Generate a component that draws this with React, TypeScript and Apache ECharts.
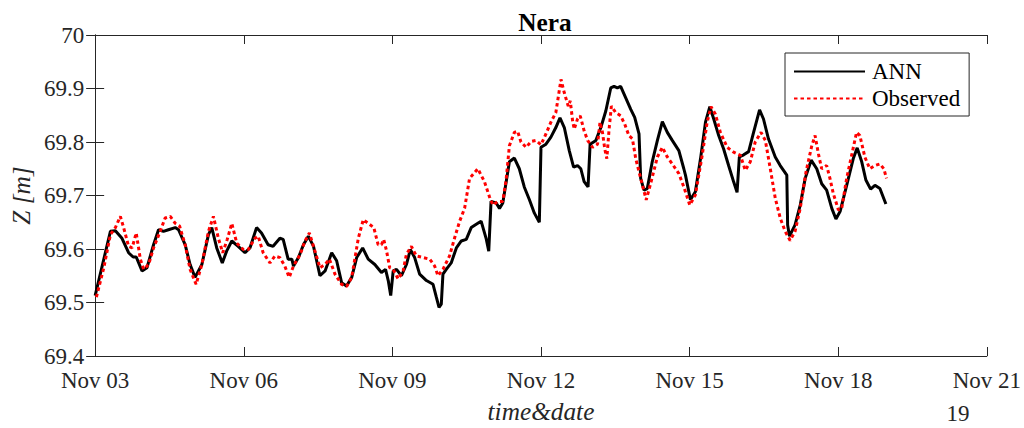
import React, { useEffect, useRef } from "react";
import * as echarts from "echarts";

// hours since Nov 03 00:00
const annHours = [0, 7.4, 9.8, 13.0, 16.2, 18.4, 19.9, 22.7, 25.1, 28.3, 30.7, 33.1, 35.5, 38.8, 40.4, 43.6, 46.0, 48.4, 51.7, 54.9, 56.5, 58.9, 61.6, 63.7, 66.2, 69.3, 72.6, 75.0, 78.2, 80.6, 83.8, 86.2, 89.5, 91.1, 93.5, 95.3, 96.1, 98.5, 100.9, 103.3, 105.8, 108.9, 111.4, 114.6, 117.0, 119.4, 121.8, 124.3, 126.7, 129.6, 132.3, 135.5, 138.7, 140.7, 142.0, 143.2, 144.4, 146.0, 148.4, 150.8, 152.7, 154.8, 157.2, 160.5, 163.7, 165.3, 166.6, 167.7, 168.5, 170.1, 172.5, 175.0, 177.4, 179.8, 182.2, 185.4, 187.0, 189.4, 190.7, 191.8, 194.3, 195.9, 197.5, 200.7, 203.1, 205.5, 207.9, 210.4, 212.8, 215.2, 216.0, 218.4, 220.8, 223.2, 225.2, 227.3, 229.7, 231.8, 233.7, 235.3, 236.9, 238.8, 239.8, 242.6, 245.0, 247.4, 249.8, 251.4, 253.0, 254.6, 257.0, 259.5, 261.4, 263.5, 264.3, 265.9, 267.5, 269.9, 272.4, 274.8, 277.2, 279.6, 282.8, 285.2, 286.0, 288.4, 290.8, 293.3, 295.7, 297.8, 299.7, 302.1, 304.5, 306.9, 309.3, 311.0, 312.1, 314.2, 316.6, 319.0, 321.9, 323.8, 326.2, 329.5, 331.9, 335.1, 335.5, 336.4, 339.1, 341.6, 344.0, 346.9, 349.6, 352.0, 354.4, 356.9, 358.9, 360.9, 364.1, 367.3, 369.2, 371.4, 373.4, 375.7, 377.8, 380.2, 383.1];
const annZ = [69.513, 69.633, 69.634, 69.62, 69.593, 69.585, 69.585, 69.559, 69.565, 69.608, 69.636, 69.633, 69.636, 69.64, 69.636, 69.608, 69.571, 69.547, 69.571, 69.627, 69.64, 69.602, 69.574, 69.596, 69.615, 69.605, 69.593, 69.602, 69.64, 69.63, 69.608, 69.605, 69.62, 69.618, 69.581, 69.581, 69.568, 69.584, 69.608, 69.624, 69.605, 69.55, 69.559, 69.593, 69.578, 69.537, 69.531, 69.547, 69.584, 69.602, 69.581, 69.571, 69.556, 69.562, 69.541, 69.513, 69.559, 69.562, 69.55, 69.571, 69.599, 69.584, 69.553, 69.541, 69.534, 69.51, 69.491, 69.497, 69.553, 69.562, 69.574, 69.602, 69.615, 69.618, 69.64, 69.648, 69.652, 69.62, 69.596, 69.689, 69.686, 69.676, 69.686, 69.763, 69.77, 69.75, 69.716, 69.692, 69.667, 69.65, 69.79, 69.796, 69.809, 69.827, 69.845, 69.827, 69.784, 69.753, 69.756, 69.75, 69.726, 69.716, 69.796, 69.803, 69.827, 69.858, 69.901, 69.904, 69.901, 69.904, 69.883, 69.861, 69.846, 69.815, 69.732, 69.71, 69.713, 69.763, 69.803, 69.838, 69.818, 69.803, 69.784, 69.75, 69.738, 69.692, 69.707, 69.769, 69.837, 69.866, 69.843, 69.812, 69.787, 69.756, 69.726, 69.706, 69.772, 69.776, 69.782, 69.818, 69.86, 69.843, 69.806, 69.772, 69.756, 69.738, 69.645, 69.624, 69.645, 69.682, 69.732, 69.766, 69.75, 69.722, 69.71, 69.676, 69.656, 69.67, 69.719, 69.769, 69.789, 69.763, 69.729, 69.712, 69.719, 69.713, 69.684];

const obsHours = [0.6, 4.2, 7.4, 9.8, 12.2, 13.8, 16.2, 17.9, 19.9, 21.9, 23.5, 25.9, 28.3, 31.5, 33.9, 36.4, 38.8, 40.9, 43.6, 46.0, 48.9, 51.7, 54.9, 57.3, 59.7, 61.8, 64.0, 66.2, 68.6, 71.8, 74.2, 77.4, 79.0, 81.4, 84.7, 87.1, 89.5, 91.9, 94.0, 96.1, 99.3, 101.7, 103.8, 106.5, 108.9, 111.4, 113.5, 116.2, 119.4, 121.8, 124.3, 127.5, 129.9, 132.3, 135.0, 137.1, 138.7, 139.8, 141.2, 142.7, 144.4, 146.8, 149.2, 150.8, 153.2, 155.6, 158.9, 162.1, 164.5, 166.1, 168.5, 171.7, 174.1, 176.6, 179.0, 181.4, 185.4, 188.6, 191.0, 192.7, 195.1, 197.5, 199.1, 200.7, 203.1, 204.7, 206.3, 208.8, 211.2, 213.6, 216.0, 218.4, 220.8, 223.2, 225.7, 227.3, 229.2, 230.2, 231.3, 232.1, 233.7, 235.0, 236.9, 238.6, 241.0, 243.4, 244.6, 245.8, 246.9, 247.9, 249.0, 250.1, 252.2, 254.6, 256.6, 258.6, 260.3, 261.9, 264.3, 267.0, 269.1, 272.4, 274.8, 277.2, 279.6, 282.8, 285.2, 288.1, 290.8, 294.1, 296.5, 298.4, 300.5, 302.9, 306.2, 309.3, 312.6, 315.0, 317.4, 319.8, 322.6, 324.7, 327.1, 329.5, 331.9, 334.3, 336.7, 339.1, 341.6, 344.4, 347.2, 348.8, 350.4, 352.0, 354.4, 356.0, 357.6, 360.1, 361.7, 364.1, 366.5, 368.9, 370.5, 372.9, 375.3, 377.8, 380.2, 382.1, 383.4];
const obsZ = [69.51, 69.565, 69.627, 69.64, 69.661, 69.64, 69.605, 69.602, 69.63, 69.581, 69.562, 69.571, 69.602, 69.633, 69.658, 69.661, 69.648, 69.643, 69.608, 69.562, 69.534, 69.571, 69.633, 69.661, 69.62, 69.593, 69.618, 69.648, 69.611, 69.599, 69.599, 69.62, 69.624, 69.593, 69.574, 69.587, 69.584, 69.568, 69.547, 69.568, 69.59, 69.615, 69.63, 69.596, 69.565, 69.571, 69.581, 69.553, 69.534, 69.53, 69.547, 69.62, 69.655, 69.648, 69.64, 69.608, 69.608, 69.618, 69.596, 69.565, 69.562, 69.544, 69.559, 69.59, 69.605, 69.587, 69.584, 69.581, 69.568, 69.55, 69.562, 69.587, 69.62, 69.652, 69.676, 69.732, 69.75, 69.726, 69.698, 69.682, 69.689, 69.689, 69.729, 69.793, 69.818, 69.82, 69.8, 69.79, 69.801, 69.803, 69.795, 69.815, 69.837, 69.855, 69.917, 69.892, 69.867, 69.877, 69.84, 69.824, 69.843, 69.849, 69.821, 69.803, 69.79, 69.796, 69.837, 69.818, 69.787, 69.769, 69.824, 69.867, 69.855, 69.849, 69.833, 69.812, 69.806, 69.769, 69.732, 69.692, 69.722, 69.772, 69.79, 69.772, 69.759, 69.741, 69.716, 69.682, 69.701, 69.775, 69.837, 69.866, 69.852, 69.818, 69.79, 69.781, 69.775, 69.747, 69.763, 69.8, 69.818, 69.803, 69.75, 69.695, 69.658, 69.633, 69.616, 69.633, 69.676, 69.744, 69.793, 69.812, 69.778, 69.75, 69.756, 69.732, 69.704, 69.673, 69.676, 69.732, 69.775, 69.818, 69.812, 69.772, 69.75, 69.756, 69.759, 69.75, 69.732];

const xStartDay = 3; // Nov 03
const xTickHours = 72;
const xMaxHours = 432; // Nov 21
const yMin = 69.4;
const yMax = 70;
const yStep = 0.1;
const seriesNames = ["ANN", "Observed"];

const FONT = "Liberation Serif";
const AX = "#262626";
const TICK_FS = 23;
const LABEL_FS = 25.3;

export default function App() {
  const ref = useRef<HTMLDivElement>(null);
  useEffect(() => {
    if (!ref.current) return;
    const chart = echarts.init(ref.current, null, { renderer: "svg" });
    const annData = annHours.map((h, i) => [h, annZ[i]]);
    const obsData = obsHours.map((h, i) => [h, obsZ[i]]);
    const xFmt = (v: number) => {
      const d = xStartDay + Math.round(v / 24);
      return "Nov " + (d < 10 ? "0" + d : String(d));
    };
    const yFmt = (v: number) => String(Math.round(v * 10) / 10);
    const axisLine = { show: true, lineStyle: { color: AX, width: 1 } };
    const axisTick = { show: true, inside: true, length: 9, lineStyle: { color: AX, width: 1 } };
    chart.setOption({
      animation: false,
      backgroundColor: "#ffffff",
      grid: { left: 93, right: 37, top: 35, bottom: 69, containLabel: false },
      title: {
        text: "Nera",
        left: 540,
        top: 4,
        textAlign: "center",
        textStyle: { fontFamily: FONT, fontSize: LABEL_FS, fontWeight: "bold", color: "#000" },
      },
      legend: {
        orient: "vertical",
        left: 785,
        top: 53,
        padding: [7, 9, 6, 8],
        itemGap: 4,
        itemWidth: 71,
        itemHeight: 3,
        borderColor: AX,
        borderWidth: 1,
        backgroundColor: "#ffffff",
        itemStyle: { color: "rgba(0,0,0,0)", borderColor: "rgba(0,0,0,0)", borderWidth: 0 },
        textStyle: { fontFamily: FONT, fontSize: TICK_FS, color: "#000", padding: [0, 0, 0, 2] },
        data: seriesNames,
      },
      xAxis: [
        {
          type: "value",
          position: "bottom",
          min: 0,
          max: xMaxHours,
          interval: xTickHours,
          axisLine,
          axisTick,
          splitLine: { show: false },
          axisLabel: {
            formatter: xFmt,
            margin: 13,
            fontFamily: FONT,
            fontSize: TICK_FS,
            color: AX,
            showMinLabel: true,
            showMaxLabel: true,
          },
          name: "time&date",
          nameLocation: "middle",
          nameGap: 42,
          nameTextStyle: { fontFamily: FONT, fontSize: LABEL_FS, fontStyle: "italic", color: AX },
        },
        {
          type: "value",
          position: "top",
          min: 0,
          max: xMaxHours,
          interval: xTickHours,
          axisLine,
          axisTick,
          splitLine: { show: false },
          axisLabel: { show: false },
        },
      ],
      yAxis: [
        {
          type: "value",
          position: "left",
          min: yMin,
          max: yMax,
          interval: yStep,
          axisLine,
          axisTick,
          splitLine: { show: false },
          axisLabel: { formatter: yFmt, margin: 11, fontFamily: FONT, fontSize: TICK_FS, color: AX },
          name: "Z [m]",
          nameLocation: "middle",
          nameRotate: 90,
          nameGap: 57,
          nameTextStyle: { fontFamily: FONT, fontSize: LABEL_FS, fontStyle: "italic", color: AX },
        },
        {
          type: "value",
          position: "right",
          min: yMin,
          max: yMax,
          interval: yStep,
          axisLine,
          axisTick,
          splitLine: { show: false },
          axisLabel: { show: false },
        },
      ],
      graphic: [
        {
          type: "text",
          x: 958,
          y: 413,
          style: {
            text: "19",
            fontFamily: FONT,
            fontSize: TICK_FS,
            fill: AX,
            textAlign: "center",
            textVerticalAlign: "middle",
          },
        },
      ],
      series: [
        {
          name: seriesNames[0],
          type: "line",
          data: annData,
          xAxisIndex: 0,
          yAxisIndex: 0,
          symbol: "none",
          showSymbol: false,
          lineStyle: { color: "#000000", width: 3 },
          itemStyle: { color: "#000000" },
          z: 3,
        },
        {
          name: seriesNames[1],
          type: "line",
          data: obsData,
          xAxisIndex: 0,
          yAxisIndex: 0,
          symbol: "none",
          showSymbol: false,
          lineStyle: { color: "#ff0000", width: 3, type: [3.5, 3] },
          itemStyle: { color: "#ff0000" },
          z: 4,
        },
      ],
    });
    return () => chart.dispose();
  }, []);
  return (
    <div
      ref={ref}
      style={{ position: "absolute", left: 0, top: 0, width: 1024, height: 428 }}
    />
  );
}
